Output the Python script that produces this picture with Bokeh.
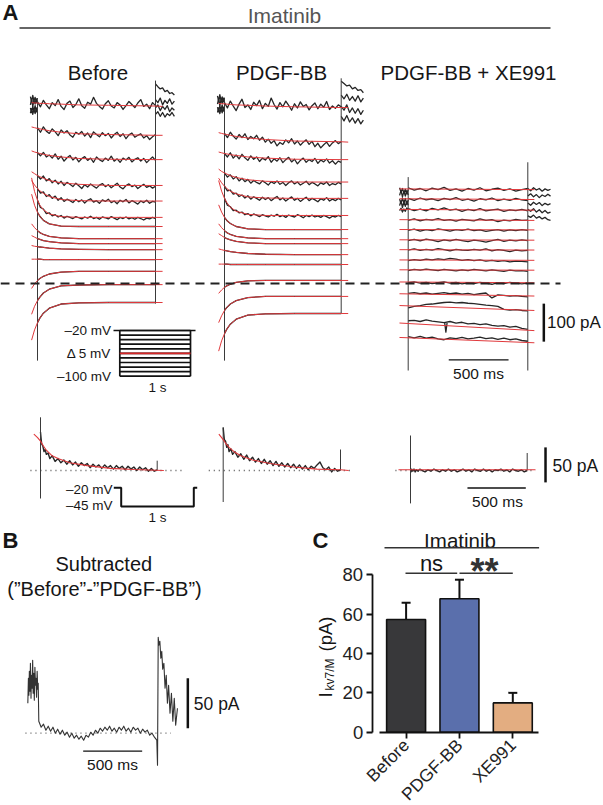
import math
from bokeh.plotting import figure
from bokeh.models import Range1d, LinearAxis, FixedTicker, Whisker, TeeHead, ColumnDataSource
from bokeh.core.properties import value
from bokeh.embed import file_html
from bokeh.resources import INLINE

# ------------------------------------------------------------------ data
# Panel A: current traces (pA) during 1 s voltage steps; time in ms
TRACE_T = list(range(0, 1001, 25))
FIT_T = [-50, -25, 0, 20, 50, 100, 200, 350, 600, 1000, 1060]
HOLD_T = [-60, -50, -40, -30, -20, -10, 0]
POST_T = [1000, 1020, 1040, 1060, 1080, 1100, 1120, 1140, 1160]
POST_T2 = [1000, 1024, 1048, 1072, 1096, 1120, 1144, 1168, 1190]

BEFORE_NOISY = [
    [478, 465, 482, 470, 460, 476, 468, 484, 466, 458, 474, 480, 463, 471, 486, 468, 461, 477, 472, 490, 474,
     466, 459, 473, 481, 467, 462, 476, 470, 458, 468, 479, 471, 463, 475, 484, 466, 472, 460, 476, 468],
    [410, 398, 412, 401, 395, 407, 399, 389, 404, 396, 402, 391, 385, 398, 393, 400, 388, 396, 384, 399, 392,
     386, 397, 389, 395, 383, 392, 398, 387, 394, 381, 391, 396, 385, 390, 394, 383, 389, 379, 386, 392],
    [344, 336, 345, 333, 338, 330, 341, 327, 335, 322, 331, 337, 325, 332, 320, 329, 334, 324, 330, 319, 333,
     326, 321, 330, 324, 335, 322, 328, 319, 330, 325, 332, 320, 327, 331, 322, 329, 318, 326, 333, 324],
    [284, 275, 283, 270, 276, 265, 272, 262, 269, 258, 266, 261, 255, 264, 257, 250, 260, 254, 262, 256, 251,
     259, 263, 255, 260, 252, 258, 264, 254, 249, 258, 262, 255, 259, 250, 256, 261, 253, 257, 251, 256],
    [250, 238, 241, 229, 234, 224, 230, 219, 226, 216, 222, 218, 213, 221, 215, 220, 212, 219, 223, 214, 218,
     211, 220, 216, 222, 213, 217, 210, 219, 215, 221, 212, 218, 214, 209, 217, 213, 219, 211, 216, 214],
    [219, 200, 196, 184, 186, 178, 181, 175, 179, 172, 177, 174, 171, 176, 173, 170, 175, 172, 177, 171, 174,
     169, 175, 173, 170, 176, 172, 168, 174, 171, 175, 170, 173, 169, 174, 171, 167, 172, 170, 174, 171],
]
BEFORE_FITS = [
    [476, 475, 475, 474, 474, 473, 472, 470, 469, 467, 466],
    [412, 410, 408, 407, 405, 402, 398, 394, 392, 390, 390],
    [349, 346, 344, 342, 340, 337, 333, 329, 327, 326, 326],
    [294, 289, 284, 281, 277, 271, 265, 261, 258, 258, 258],
    [271, 259, 250, 244, 237, 229, 221, 218, 217, 217, 217],
    [278, 242, 219, 206, 194, 183, 176, 174, 174, 174, 174],
    [235, 206, 187, 177, 166, 157, 151, 150, 150, 150, 150],
    [157, 147, 139, 134, 129, 124, 120, 118, 118, 118, 118],
    [126, 122, 118, 116, 113, 110, 107, 105, 105, 105, 105],
    [100, 98, 97, 96, 95, 93, 91, 90, 89, 89, 89],
    [64, 64, 64, 64, 63, 63, 63, 63, 63, 63, 63],
    [-13, -1, 8, 13, 19, 25, 30, 32, 32, 32, 32],
    [-81, -60, -45, -36, -25, -15, -6, -4, -3, -3, -3],
    [-149, -122, -103, -91, -78, -65, -54, -51, -50, -50, -50],
]
BEFORE_PRE = [[492, 478, 495, 480, 490, 476, 488], [470, 485, 466, 482, 472, 486, 474],
              [462, 450, 466, 455, 468, 452, 460], [448, 460, 445, 458, 447, 462, 450]]
BEFORE_POST = [[525, 518, 512, 515, 505, 508, 500, 502, 496], [484, 476, 488, 470, 482, 474, 486, 472, 480],
               [462, 470, 455, 466, 458, 468, 452, 462, 456], [445, 452, 440, 450, 438, 447, 442, 450, 440]]
BEFORE_TRANSIENT = [[482, -203], [534, -53]]

PDGF_NOISY = [
    [476, 462, 480, 467, 455, 472, 485, 463, 470, 458, 477, 468, 482, 460, 474, 466, 488, 471, 459, 476, 465,
     480, 469, 456, 473, 462, 478, 466, 471, 457, 468, 475, 460, 472, 464, 479, 458, 467, 461, 470, 465],
    [395, 384, 398, 388, 380, 392, 384, 394, 379, 387, 381, 390, 377, 385, 372, 380, 369, 376, 362, 371, 366,
     378, 370, 381, 367, 375, 364, 372, 378, 366, 374, 360, 369, 357, 365, 372, 361, 370, 376, 368, 373],
    [342, 333, 344, 330, 338, 328, 340, 331, 324, 336, 327, 333, 321, 330, 325, 334, 319, 328, 322, 331, 318,
     326, 332, 320, 327, 315, 324, 330, 319, 326, 321, 329, 316, 325, 320, 328, 317, 323, 314, 322, 319],
    [291, 280, 286, 275, 281, 270, 277, 268, 274, 264, 271, 266, 262, 270, 265, 259, 268, 263, 270, 261, 266,
     258, 265, 270, 262, 267, 259, 264, 269, 260, 266, 262, 257, 265, 261, 267, 258, 263, 260, 266, 262],
    [256, 244, 246, 235, 238, 229, 233, 225, 231, 222, 228, 224, 219, 227, 221, 226, 218, 224, 229, 220, 225,
     217, 223, 228, 219, 224, 216, 222, 227, 218, 224, 220, 215, 223, 219, 226, 217, 222, 218, 224, 220],
    [224, 206, 202, 192, 193, 186, 188, 181, 184, 178, 183, 180, 176, 181, 178, 175, 180, 177, 182, 176, 179,
     174, 180, 177, 175, 181, 178, 173, 179, 176, 180, 175, 178, 174, 179, 176, 172, 177, 175, 179, 176],
]
PDGF_FITS = [
    [474, 473, 473, 472, 471, 470, 469, 467, 465, 463, 463],
    [397, 395, 393, 392, 390, 387, 383, 379, 375, 373, 372],
    [346, 344, 342, 341, 339, 337, 333, 330, 327, 326, 326],
    [301, 295, 291, 288, 284, 279, 273, 269, 267, 267, 267],
    [277, 265, 256, 250, 243, 236, 228, 225, 224, 224, 224],
    [271, 243, 224, 213, 201, 190, 182, 179, 179, 179, 179],
    [207, 188, 174, 166, 158, 150, 144, 142, 142, 142, 142],
    [157, 147, 139, 134, 129, 124, 120, 118, 118, 118, 118],
    [131, 126, 121, 118, 115, 111, 107, 105, 105, 105, 105],
    [91, 89, 87, 86, 84, 82, 79, 77, 76, 76, 76],
    [51, 51, 51, 51, 50, 50, 50, 50, 50, 50, 50],
    [-26, -17, -10, -6, -2, 3, 7, 8, 8, 8, 8],
    [-103, -85, -71, -63, -54, -45, -37, -34, -34, -34, -34],
    [-178, -151, -132, -120, -107, -94, -83, -80, -79, -79, -79],
]
PDGF_PRE = [[494, 480, 497, 482, 491, 478, 489], [472, 487, 468, 484, 474, 488, 476],
            [464, 452, 468, 457, 470, 454, 462], [450, 462, 447, 460, 449, 464, 452]]
PDGF_POST = [[532, 526, 520, 522, 512, 516, 508, 510, 502], [496, 486, 498, 482, 492, 480, 494, 478, 488],
             [466, 456, 470, 450, 462, 448, 460, 445, 456], [440, 428, 442, 425, 436, 422, 434, 420, 430]]
PDGF_TRANSIENT = [[487, -203], [540, -79]]

XE_T = list(range(0, 1001, 50))
XE_TRACES = [
    [252, 246, 250, 244, 251, 247, 253, 245, 249, 243, 250, 246, 252, 244, 248, 251, 245, 249, 243, 247, 250],
    [224, 219, 225, 220, 223, 218, 224, 221, 226, 219, 222, 217, 223, 220, 225, 218, 222, 219, 224, 220, 218],
    [197, 192, 196, 191, 198, 194, 199, 193, 196, 190, 195, 192, 197, 191, 194, 196, 190, 194, 192, 195, 191],
    [166, 170, 165, 169, 167, 171, 166, 168, 164, 169, 167, 165, 170, 166, 168, 163, 167, 165, 169, 166, 167],
    [140, 143, 138, 142, 139, 144, 141, 138, 142, 140, 143, 139, 141, 137, 140, 142, 138, 141, 139, 142, 140],
    [113, 116, 112, 117, 114, 110, 115, 112, 116, 113, 110, 114, 112, 109, 113, 116, 111, 114, 112, 115, 113],
    [88, 91, 87, 90, 88, 92, 89, 86, 90, 88, 87, 90, 88, 91, 86, 89, 87, 84, 88, 86, 87],
    [60, 63, 61, 64, 62, 65, 63, 66, 64, 61, 63, 60, 62, 59, 61, 58, 60, 57, 59, 58, 57],
    [34, 37, 35, 38, 36, 34, 37, 35, 33, 36, 34, 37, 35, 33, 36, 34, 32, 35, 33, 34, 32],
    [2, 4, 1, 3, 0, 2, 4, 1, 3, -1, 2, 0, 3, 1, -2, 2, 0, 3, 1, -1, 1],
    [-26, -24, -27, -25, -28, -26, -24, -27, -25, -28, -26, -29, -27, -25, -38, -30, -31, -33, -32, -34, -35],
    [-64, -60, -58, -55, -54, -52, -50, -49, -51, -50, -52, -53, -55, -57, -58, -60, -68, -70, -69, -71, -72],
    [-98, -97, -100, -96, -99, -101, -103, -100, -104, -102, -106, -105, -108, -106, -110, -112, -111, -115,
     -113, -118, -121],
    [-140, -143, -139, -144, -141, -146, -148, -143, -145, -142, -146, -144, -141, -145, -143, -147, -144, -148,
     -146, -150, -152],
]
XE_SPIKE_T = [305, 315, 325]
XE_SPIKE = [-103, -128, -104]
XE_FIT_T = [-73, 1055]
XE_FITS = [[249, 247], [223, 221], [195, 193], [168, 166], [142, 141], [115, 114], [89, 88], [62, 61],
           [36, 35], [4, 2], [-27, -33], [-58, -71], [-104, -124], [-142, -156]]
XE_HOLD_T = [-72, -60, -48, -36, -24, -12, 0]
XE_PRE = [[252, 240, 250, 238, 248, 236, 247], [232, 245, 228, 243, 230, 244, 233],
          [222, 210, 225, 212, 224, 208, 220], [205, 218, 200, 215, 203, 216, 206],
          [192, 198, 188, 196, 190, 199, 194]]
XE_POST = [[250, 244, 252, 246, 250, 243, 249, 245, 248], [230, 236, 228, 234, 226, 233, 229, 235, 230],
           [212, 206, 214, 208, 213, 205, 211, 207, 210], [195, 190, 197, 188, 194, 186, 192, 185, 188],
           [178, 174, 180, 172, 176, 170, 174, 168, 166]]
XE_TRANSIENT = [[280, -229], [319, -229]]
ZERO_DASH_X = [0, 560]

# step protocol inset (mV)
STEP_LEVELS = [-20, -28, -36, -44, -52, -60, -68, -76, -84, -92, -100]
STEP_HOLD_T = [-89, 1071]
STEP_RED = -60

# Panel A, bottom: tail currents during -20 -> -45 mV step
TAIL_T = [0, 5, 10, 20, 30, 40, 50, 65, 80, 100] + list(range(125, 1001, 25))
BEFORE_TAIL = [55, 46, 38, 35, 27, 30, 23, 25, 17, 21, 13, 17, 11, 15, 9, 14, 8, 12, 6, 11, 7, 10, 4, 9, 5, 8,
               3, 8, 4, 7, 2, 7, 3, 6, 1, 6, 2, 5, 0, 5, 1, 4, -1, 3, -1, 1]
PDGF_TAIL = [61, 52, 44, 42, 33, 37, 27, 31, 23, 27, 19, 24, 16, 22, 14, 19, 12, 17, 10, 16, 9, 14, 7, 13, 6,
             11, 5, 10, 4, 9, 3, 8, 2, 7, 1, 6, 3, 8, 12, 4, 1, 5, -2, 3, -1, 1]
XE_TAIL = [1, -2, 2, -1, 2, -2, 1, -1, 2, 0, -2, 1, -1, 2, 0, -2, 1, -1, 2, -1, 1, -2, 0, 2, -1, 1, -2, 2, 0,
           -1, 2, -1, 1, -2, 1, 0, 2, -1, 1, -2, 2, 0, -1, 1, -2, 0]
BEFORE_TFIT_T = [-57, -25, 0, 25, 50, 100, 150, 250, 400, 600, 800, 1057]
BEFORE_TFIT = [52, 47, 42, 35, 29, 21, 17, 11, 7, 3, 1.5, 0]
PDGF_TFIT_T = [-37, 0, 25, 50, 100, 150, 250, 400, 600, 800, 1000, 1070]
PDGF_TFIT = [52, 44, 38, 33, 26, 21, 15, 10, 5, 2, 1, 0]
XE_TFIT_T = [-103, 1071]
XE_TFIT = [1, 1]
BEFORE_TAIL_TRANSIENT = [[76, -40], [14, 0]]
PDGF_TAIL_TRANSIENT = [[62, -45], [30, 0]]
XE_TAIL_TRANSIENT = [[50, -47], [25, 0]]
BEFORE_TAIL_ZERO_T = [-86, 1225]
PDGF_TAIL_ZERO_T = [-123, 1086]
XE_TAIL_ZERO_T = [-129, 1071]
PROT_T = [-102, 0, 0, 1000, 1000, 1047]
PROT_V = [-20, -20, -45, -45, -20, -20]

# Panel B: subtracted trace
SUB_PRE_T = [-93, -88, -84, -80, -75, -71, -66, -62, -57, -52, -48, -43, -38, -33, -28, -24, -19, -14, -9, -5, 0]
SUB_PRE = [30, 55, 38, 62, 42, 70, 35, 58, 45, 73, 40, 60, 33, 66, 48, 55, 36, 62, 44, 50, 12]
SUB_T = list(range(0, 1001, 20))
SUB = [12, 6, 9, 3, 7, 2, 6, 0, 4, -1, 3, -2, 1, -4, 0, -5, -2, -6, -3, -7, -2, -4, 1, -2, 3, 0, 5, 2, 6, 3,
       7, 2, 5, 1, 6, 3, 7, 2, 5, 1, 6, 3, 5, 0, 4, 1, 3, -2, 0, -4, -7]
SUB_POST_T = [1000, 1006, 1012, 1018, 1026, 1034, 1042, 1050, 1060, 1070, 1080, 1090, 1100, 1112, 1124, 1136,
              1148, 1160, 1175]
SUB_POST = [-7, -32, 96, 88, 92, 75, 82, 64, 70, 45, 58, 30, 48, 20, 40, 12, 35, 8, 25]
SUB_ZERO_T = [-113, 1120]

# scale bars (time ms, current pA)
SB_A = {"t": 1134, "i": (-153, -53), "tbar": (339, 839), "ibar": -201}
SB_TAIL = {"t": 1157, "i": (-17, 33), "tbar": (488, 988), "ibar": -25}
SB_B = {"t": 1263, "i": (5, 55), "tbar": (376, 876), "ibar": -18}

# Panel C: bar chart
C_LABELS = ["Before", "PDGF-BB", "XE991"]
C_POS = [1, 2, 3]
C_MEAN = [57.3, 67.8, 14.9]
C_SEM = [8.5, 9.7, 5.1]
C_COLORS = ["#38383a", "#5a6fac", "#e3ad81"]
Y_TICKS = [0, 20, 40, 60, 80]

# ------------------------------------------------------------------ style / layout
W, H = 603, 805
FONT = "Liberation Sans"
TRACE_C = "#262626"
FIT_C = "#e0393c"


def rng(p0, p1, v0, v1, size):
    k = (v1 - v0) / (p1 - p0)
    return Range1d(start=v0 - p0 * k, end=v0 + (size - p0) * k)


def xr(x0, x1, v0, v1):
    return rng(x0, x1, v0, v1, W)


def yr(y0, y1, v0, v1):
    return rng(H - y0, H - y1, v0, v1, H)


p = figure(width=W, height=H, x_range=Range1d(0, W), y_range=Range1d(0, H),
           output_backend="svg", toolbar_location=None, x_axis_location=None, y_axis_location=None,
           min_border=0, outline_line_color=None)
p.grid.visible = False

p.extra_x_ranges = {
    "bt": xr(37, 155, 0, 1000), "pt": xr(224, 340.7, 0, 1000), "xt": xr(407.7, 527.3, 0, 1000),
    "btt": xr(40, 156.7, 0, 1000), "ptt": xr(222.7, 340, 0, 1000), "xtt": xr(410, 526.7, 0, 1000),
    "spt": xr(119.3, 190, 0, 1000), "tpt": xr(120.7, 193.3, 0, 1000), "st": xr(38.3, 156.3, 0, 1000),
    "cx": xr(405.6, 512.3, 1, 3),
}
p.extra_y_ranges = {
    "ai": yr(283, 245, 0, 100), "ti": yr(470, 435, 0, 50), "spv": yr(330, 375.7, -20, -100),
    "tpv": yr(487.3, 506, -20, -45), "si": yr(732.7, 682.7, 0, 50), "cy": yr(731.7, 574.3, 0, 80),
}


def txt(x, y, s, size, align="center", baseline="middle", bold=False, color="#161616", angle=0.0):
    p.text(x=[x], y=[H - y], text=[s], text_font=value(FONT), text_font_size=value(f"{size:.2f}px"),
           text_align=align, text_baseline=baseline, text_font_style="bold" if bold else "normal",
           text_color=color, angle=angle)


def hline(x0, x1, y, color="#222222", width=1.5):
    p.line(x=[x0, x1], y=[H - y, H - y], line_color=color, line_width=width)


# ---------------- panel A traces
def panel_a(tr, noisy, fits, pre_t, pre, post_t, post, trans):
    xs, ys = [], []
    for v in noisy:
        xs.append(TRACE_T[:len(v)])
        ys.append(v)
    for f in fits[len(noisy):]:
        xs.append(FIT_T[2:10])
        ys.append(f[2:10])
    for v in pre:
        xs.append(pre_t)
        ys.append(v)
    for v in post:
        xs.append(post_t)
        ys.append(v)
    p.multi_line(xs, ys, x_range_name=tr, y_range_name="ai", line_color=TRACE_C, line_width=1.3,
                 line_join="round")
    p.segment(x0=[0, 1000], y0=[trans[0][0], trans[1][0]], x1=[0, 1000], y1=[trans[0][1], trans[1][1]],
              x_range_name=tr, y_range_name="ai", line_color="#3a3a3a", line_width=1)
    p.multi_line([FIT_T] * len(fits), fits, x_range_name=tr, y_range_name="ai", line_color=FIT_C,
                 line_width=1)


panel_a("bt", BEFORE_NOISY, BEFORE_FITS, HOLD_T, BEFORE_PRE, POST_T, BEFORE_POST, BEFORE_TRANSIENT)
panel_a("pt", PDGF_NOISY, PDGF_FITS, HOLD_T, PDGF_PRE, POST_T2, PDGF_POST, PDGF_TRANSIENT)

xs = [XE_T] * len(XE_TRACES) + [XE_HOLD_T] * len(XE_PRE) + [POST_T2] * len(XE_POST) + [XE_SPIKE_T]
ys = XE_TRACES + XE_PRE + XE_POST + [XE_SPIKE]
p.multi_line(xs, ys, x_range_name="xt", y_range_name="ai", line_color=TRACE_C, line_width=1.3,
             line_join="round")
p.segment(x0=[0, 1000], y0=[XE_TRANSIENT[0][0], XE_TRANSIENT[1][0]], x1=[0, 1000],
          y1=[XE_TRANSIENT[0][1], XE_TRANSIENT[1][1]], x_range_name="xt", y_range_name="ai",
          line_color="#3a3a3a", line_width=1)
p.multi_line([XE_FIT_T] * len(XE_FITS), XE_FITS, x_range_name="xt", y_range_name="ai", line_color=FIT_C,
             line_width=1)

# zero-current dashed line
p.line(x=ZERO_DASH_X, y=[0, 0], y_range_name="ai", line_color="#222222", line_width=1.8, line_dash="9 6")

# scale bars panel A
p.line(x=[SB_A["t"]] * 2, y=list(SB_A["i"]), x_range_name="xt", y_range_name="ai", line_color="#111111",
       line_width=2.5)
p.line(x=list(SB_A["tbar"]), y=[SB_A["ibar"]] * 2, x_range_name="xt", y_range_name="ai",
       line_color="#111111", line_width=1.3)

# step protocol inset
sxs = [[0, 1000] for _ in STEP_LEVELS] + [STEP_HOLD_T, [0, 0], [1000, 1000]]
sys_ = [[v, v] for v in STEP_LEVELS] + [[STEP_LEVELS[0]] * 2, [STEP_LEVELS[0], STEP_LEVELS[-1]],
                                        [STEP_LEVELS[0], STEP_LEVELS[-1]]]
p.multi_line(sxs, sys_, x_range_name="spt", y_range_name="spv", line_color="#111111", line_width=1.7)
p.line(x=[0, 1000], y=[STEP_RED] * 2, x_range_name="spt", y_range_name="spv", line_color="#d62728",
       line_width=1.7)


# ---------------- tail row
def tail(tr, trace, fit_t, fit, trans, zero_t):
    p.line(x=zero_t, y=[0, 0], x_range_name=tr, y_range_name="ti", line_color="#555555", line_dash="1 4",
           line_width=1.3)
    p.line(x=TAIL_T, y=trace, x_range_name=tr, y_range_name="ti", line_color=TRACE_C, line_width=1.4,
           line_join="round")
    p.segment(x0=[0, 1000], y0=[trans[0][0], trans[1][0]], x1=[0, 1000], y1=[trans[0][1], trans[1][1]],
              x_range_name=tr, y_range_name="ti", line_color="#3a3a3a", line_width=1)
    p.line(x=fit_t, y=fit, x_range_name=tr, y_range_name="ti", line_color=FIT_C, line_width=1.1)


tail("btt", BEFORE_TAIL, BEFORE_TFIT_T, BEFORE_TFIT, BEFORE_TAIL_TRANSIENT, BEFORE_TAIL_ZERO_T)
tail("ptt", PDGF_TAIL, PDGF_TFIT_T, PDGF_TFIT, PDGF_TAIL_TRANSIENT, PDGF_TAIL_ZERO_T)
tail("xtt", XE_TAIL, XE_TFIT_T, XE_TFIT, XE_TAIL_TRANSIENT, XE_TAIL_ZERO_T)

p.line(x=[SB_TAIL["t"]] * 2, y=list(SB_TAIL["i"]), x_range_name="xtt", y_range_name="ti",
       line_color="#111111", line_width=2.5)
p.line(x=list(SB_TAIL["tbar"]), y=[SB_TAIL["ibar"]] * 2, x_range_name="xtt", y_range_name="ti",
       line_color="#111111", line_width=1.3)
p.line(x=PROT_T, y=PROT_V, x_range_name="tpt", y_range_name="tpv", line_color="#111111", line_width=2)

# ---------------- panel B
p.line(x=SUB_ZERO_T, y=[0, 0], x_range_name="st", y_range_name="si", line_color="#555555", line_dash="1 4",
       line_width=1.3)
p.line(x=SUB_PRE_T + SUB_T + SUB_POST_T, y=SUB_PRE + SUB + SUB_POST, x_range_name="st", y_range_name="si",
       line_color="#333333", line_width=1.1, line_join="round")
p.line(x=[SB_B["t"]] * 2, y=list(SB_B["i"]), x_range_name="st", y_range_name="si", line_color="#111111",
       line_width=2.5)
p.line(x=list(SB_B["tbar"]), y=[SB_B["ibar"]] * 2, x_range_name="st", y_range_name="si",
       line_color="#111111", line_width=1.3)

# ---------------- panel C
p.vbar(x=C_POS, top=C_MEAN, bottom=0, width=0.73, fill_color=C_COLORS, line_color="#111111", line_width=1.6,
       x_range_name="cx", y_range_name="cy")
src = ColumnDataSource(dict(x=C_POS, lo=C_MEAN, hi=[m + e for m, e in zip(C_MEAN, C_SEM)]))
p.add_layout(Whisker(source=src, base="x", lower="lo", upper="hi", dimension="height", x_range_name="cx",
                     y_range_name="cy", line_color="#111111", line_width=2, lower_head=None,
                     upper_head=TeeHead(size=9, line_color="#111111", line_width=2)))

yax = LinearAxis(x_range_name="cx", y_range_name="cy", fixed_location=0.364, bounds=(0, 80),
                 ticker=FixedTicker(ticks=Y_TICKS))
xax = LinearAxis(x_range_name="cx", y_range_name="cy", fixed_location=0, bounds=(0.507, 3.49),
                 ticker=FixedTicker(ticks=C_POS),
                 major_label_overrides={k: v for k, v in zip(C_POS, C_LABELS)})
for ax, fs in ((yax, 18.5), (xax, 17.5)):
    ax.axis_line_width = 1.8
    ax.axis_line_color = "#111111"
    ax.major_tick_line_width = 1.8
    ax.major_tick_line_color = "#111111"
    ax.major_tick_out = 6
    ax.major_tick_in = 0
    ax.minor_tick_out = 0
    ax.minor_tick_in = 0
    ax.major_label_text_font = FONT
    ax.major_label_text_font_size = f"{fs:.2f}px"
    ax.major_label_text_color = "#222222"
yax.major_label_standoff = 3
xax.major_label_standoff = 4
xax.major_label_orientation = math.pi / 4
p.add_layout(yax, "left")
p.add_layout(xax, "below")

# ---------------- texts and annotation lines
txt(2, 12, "A", 22, align="left", bold=True)
txt(284, 14.5, "Imatinib", 21, color="#555555")
hline(19, 550, 27.5, color="#333333", width=1.5)
txt(97.5, 72, "Before", 20.5)
txt(281, 72, "PDGF-BB", 20.5)
txt(468, 72, "PDGF-BB + XE991", 20.5)

txt(110.5, 330, "–20 mV", 13.5, align="right")
txt(110.5, 353, "Δ 5 mV", 13.5, align="right")
txt(110.5, 376, "–100 mV", 13.5, align="right")
txt(157, 386.5, "1 s", 13.5)
txt(546.5, 322, "100 pA", 17, align="left")
txt(478, 373.3, "500 ms", 15.5)

txt(112, 489.3, "–20 mV", 13.5, align="right")
txt(112, 505, "–45 mV", 13.5, align="right")
txt(157, 516.5, "1 s", 13.5)
txt(552, 465, "50 pA", 17.5, align="left")
txt(497, 500.5, "500 ms", 15.5)

txt(2, 540, "B", 22, align="left", bold=True)
txt(103.3, 563, "Subtracted", 20)
txt(104, 588, "(”Before”-”PDGF-BB”)", 20)
txt(193.3, 703.3, "50 pA", 17.5, align="left")
txt(112, 764, "500 ms", 15.5)

txt(312, 540, "C", 22, align="left", bold=True)
txt(459.5, 539.5, "Imatinib", 20.5)
hline(384, 538.6, 547.3, color="#333333", width=1.5)
txt(431, 563, "ns", 22, baseline="middle")
txt(484, 571, "**", 36, baseline="alphabetic", bold=True, color="#333333")
hline(405, 456.7, 572.7, color="#333333", width=1.5)
hline(459, 512.3, 572.7, color="#333333", width=1.5)

txt(325, 697, "I", 18.5, align="left", baseline="alphabetic", angle=math.pi / 2)
txt(329, 690, "kv7/M", 12, align="left", baseline="alphabetic", angle=math.pi / 2)
txt(325, 651, "(pA)", 18.5, align="left", baseline="alphabetic", angle=math.pi / 2)

open("out.html", "w").write(file_html(p, INLINE))
